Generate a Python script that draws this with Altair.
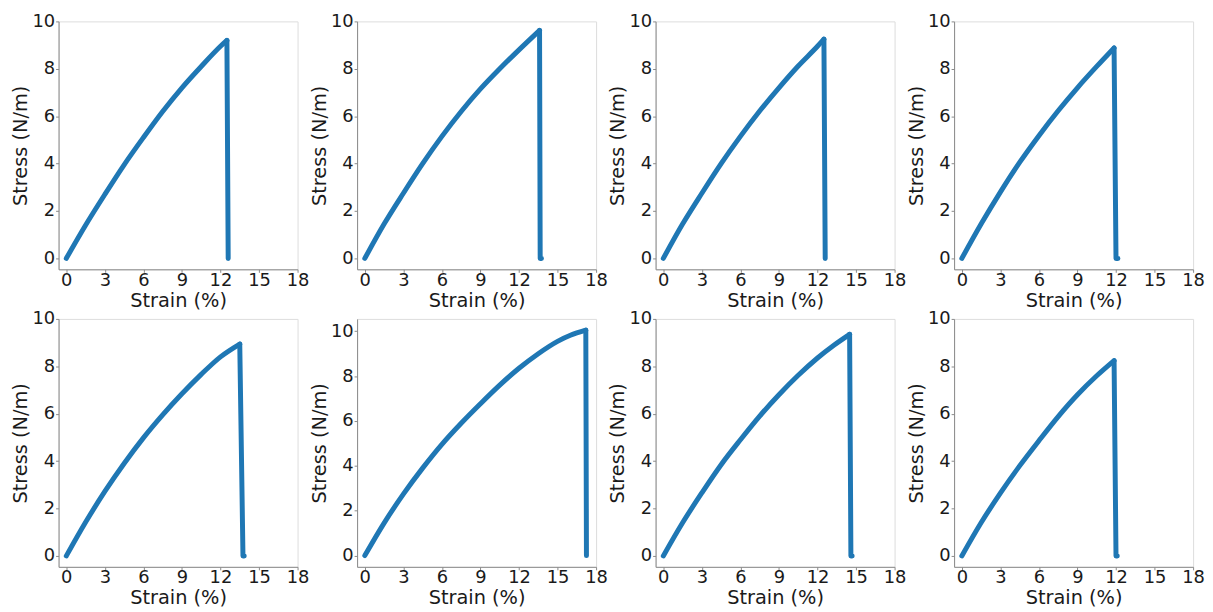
import altair as alt
import pandas as pd

# ---- data (strain %, stress N/m) ----
strain_a = [0, 1.5, 3, 4.5, 6, 7.5, 9, 10.5, 12, 12.5, 12.6]
stress_a = [0, 1.4, 2.7, 3.95, 5.1, 6.2, 7.2, 8.1, 8.95, 9.2, 0]

strain_b = [0, 1.5, 3, 4.5, 6, 7.5, 9, 10.5, 12, 13.6, 13.65, 13.75]
stress_b = [0, 1.45, 2.75, 4.0, 5.15, 6.2, 7.15, 8.0, 8.8, 9.62, 0, 0]

strain_c = [0, 1.5, 3, 4.5, 6, 7.5, 9, 10.5, 12, 12.5, 12.6]
stress_c = [0, 1.45, 2.75, 4.0, 5.15, 6.22, 7.2, 8.12, 8.95, 9.25, 0]

strain_d = [0, 1.5, 3, 4.5, 6, 7.5, 9, 10.5, 11.85, 12.0, 12.15]
stress_d = [0, 1.45, 2.8, 4.05, 5.18, 6.23, 7.2, 8.1, 8.88, 0, 0]

strain_e = [0, 1.5, 3, 4.5, 6, 7.5, 9, 10.5, 12, 13.5, 13.75, 13.85]
stress_e = [0, 1.42, 2.72, 3.9, 4.98, 5.95, 6.84, 7.66, 8.4, 8.94, 0, 0]

strain_f = [0, 1.5, 3, 4.5, 6, 7.5, 9, 10.5, 12, 13.5, 15, 16, 17.2, 17.25]
stress_f = [0, 1.45, 2.74, 3.9, 4.96, 5.9, 6.77, 7.6, 8.35, 9.0, 9.55, 9.82, 10.05, 0]

strain_g = [0, 1.5, 3, 4.5, 6, 7.5, 9, 10.5, 12, 13.3, 14.5, 14.6, 14.7]
stress_g = [0, 1.4, 2.66, 3.85, 4.9, 5.9, 6.8, 7.62, 8.35, 8.9, 9.35, 0, 0]

strain_h = [0, 1.5, 3, 4.5, 6, 7.5, 9, 10.5, 11.85, 12.0, 12.1]
stress_h = [0, 1.4, 2.65, 3.8, 4.86, 5.88, 6.8, 7.6, 8.24, 0, 0]

x_ticks = [0, 3, 6, 9, 12, 15, 18]
y_ticks = [0, 2, 4, 6, 8, 10]
x_title = "Strain (%)"
y_title = "Stress (N/m)"

LINE = "#1f77b4"
W, H = 241, 250


def panel(strain, stress, ymax=10.0, ymin=-0.46):
    df = pd.DataFrame({"strain": strain, "stress": stress, "i": range(len(strain))})
    peak = int(df["stress"].idxmax())
    rise = df.iloc[: peak + 1]
    drop = df.iloc[peak:]
    x = alt.X("strain:Q",
              scale=alt.Scale(domain=[-0.6, 18], nice=False, zero=False),
              axis=alt.Axis(values=x_ticks, title=x_title))
    y = alt.Y("stress:Q",
              scale=alt.Scale(domain=[ymin, ymax], nice=False, zero=False),
              axis=alt.Axis(values=y_ticks, title=y_title))
    style = dict(color=LINE, strokeWidth=5, strokeCap="round", strokeJoin="round")
    up = alt.Chart(rise).mark_line(interpolate="monotone", **style).encode(x=x, y=y, order="i:Q")
    down = alt.Chart(drop).mark_line(**style).encode(x=x, y=y, order="i:Q")
    return alt.layer(up, down).properties(width=W, height=H)


panels = [
    panel(strain_a, stress_a), panel(strain_b, stress_b),
    panel(strain_c, stress_c), panel(strain_d, stress_d),
    panel(strain_e, stress_e), panel(strain_f, stress_f, 10.55, -0.5),
    panel(strain_g, stress_g), panel(strain_h, stress_h),
]

chart = (
    alt.concat(*panels, columns=4, spacing={"row": 50, "column": 60}, bounds="flush")
    .resolve_scale(x="independent", y="independent")
    .properties(padding={"left": 2, "top": 1, "right": 0, "bottom": 0})
    .configure_view(stroke="#dddddd", strokeWidth=1)
    .configure_axis(
        grid=False, labelOverlap=False, labelFlush=False,
        labelFont="DejaVu Sans", labelFontSize=18, labelColor="#1a1a1a",
        titleFont="DejaVu Sans", titleFontSize=19.5, titleFontWeight="normal",
        titleColor="#1a1a1a",
        domainColor="#8a8a8a", domainWidth=1,
        tickColor="#8a8a8a", tickSize=3, tickWidth=1,
        labelPadding=1, titlePadding=1,
    )
    .configure_axisX(labelPadding=-1, titlePadding=2)
)

chart.save("out.html", embed_options={"renderer": "svg", "actions": False})
